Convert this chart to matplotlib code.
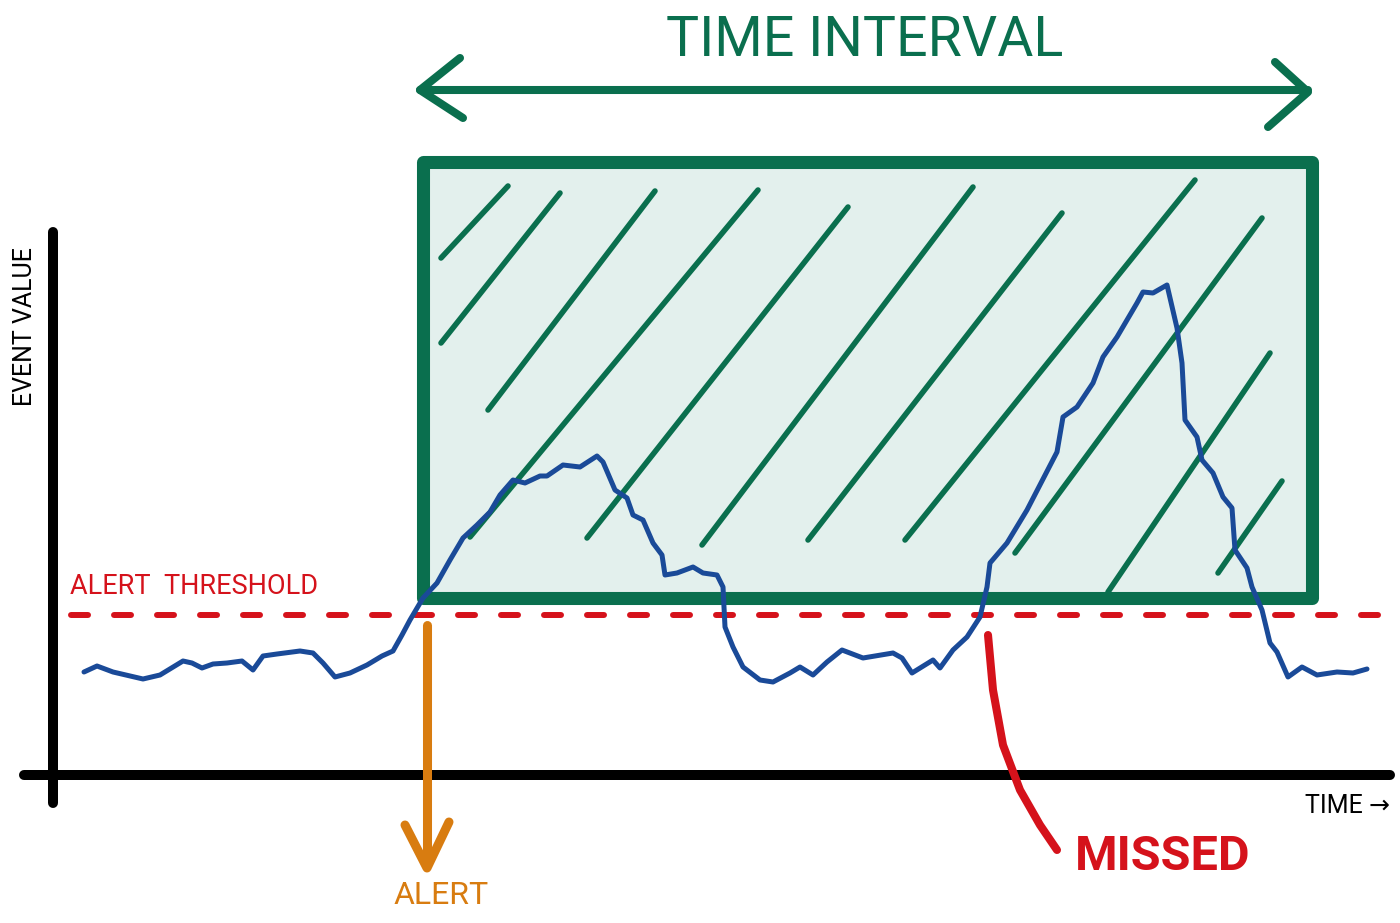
import numpy as np
import matplotlib.pyplot as plt
from matplotlib.patches import Rectangle

# event value over time (blue trace)
time = [3.1, 4.4, 6.0, 9.0, 10.7, 13.0, 13.9, 14.9, 16.0, 17.4, 18.9, 20.0, 21.0, 22.4,
        24.7, 26.0, 27.0, 28.2, 29.7, 31.4, 32.9, 34.0, 34.9, 35.7, 37.0, 38.4, 39.7,
        41.0, 42.4, 43.7, 44.7, 46.0, 47.2, 48.7, 49.4, 51.0, 52.7, 54.4, 55.0, 56.2,
        57.4, 58.0, 59.0, 60.0, 60.9, 61.2, 62.4, 64.0, 65.0, 66.4, 67.0, 67.2, 68.0,
        69.0, 70.7, 72.0, 73.7, 74.7, 76.0, 77.4, 78.9, 81.0, 84.0, 84.9, 85.9, 88.0,
        88.7, 90.0, 91.4, 92.7, 93.4, 93.7, 95.4, 97.4, 100.4, 101.0, 102.4, 104.0,
        105.0, 106.4, 108.4, 109.0, 110.0, 111.4, 112.4, 112.9, 113.2, 114.4, 114.9,
        116.0, 117.0, 117.9, 118.2, 119.4, 119.9, 120.9, 121.7, 122.4, 123.5, 124.9,
        126.4, 128.4, 130.0, 131.4]
value = [10.3, 10.9, 10.3, 9.6, 10.0, 11.4, 11.2, 10.7, 11.1, 11.2, 11.4, 10.5, 11.9, 12.1,
         12.4, 12.2, 11.2, 9.8, 10.2, 11.0, 11.9, 12.4, 14.0, 15.5, 17.7, 19.2, 21.5,
         23.7, 25.0, 26.3, 28.0, 29.5, 29.2, 29.9, 29.9, 31.0, 30.8, 31.9, 31.3, 28.5,
         27.7, 26.0, 25.5, 23.2, 22.0, 20.0, 20.2, 20.8, 20.2, 20.0, 18.8, 14.8, 12.8,
         10.8, 9.5, 9.3, 10.2, 10.8, 10.0, 11.3, 12.5, 11.7, 12.2, 11.7, 10.2, 11.5,
         10.7, 12.5, 13.8, 15.8, 18.8, 21.2, 23.2, 26.5, 32.3, 35.8, 36.8, 39.2,
         41.8, 43.8, 47.2, 48.3, 48.2, 49.0, 44.7, 41.2, 35.5, 33.8, 31.5,
         30.2, 27.8, 26.7, 22.5, 20.7, 18.8, 16.5, 13.2, 12.3, 9.8, 10.8,
         10.0, 10.3, 10.2, 10.6]

threshold = 16.0
interval_start, interval_end = 37.0, 125.9
interval_low, interval_high = 17.7, 61.3

# hand drawn hatch strokes inside the interval box: (t0, v0, t1, v1)
hatch = [(38.8, 51.7, 45.5, 58.9), (38.8, 43.2, 50.7, 58.2), (43.5, 36.5, 60.2, 58.4),
         (41.7, 23.8, 70.5, 58.5), (53.4, 23.7, 79.5, 56.8), (64.9, 23.0, 92.0, 58.8),
         (75.5, 23.5, 100.9, 56.2), (85.2, 23.5, 114.2, 59.5), (96.2, 22.2, 120.9, 55.7),
         (105.5, 18.3, 121.7, 42.2), (116.5, 20.2, 122.9, 29.4)]

alert_time = 37.4
missed_path_t = [93.5, 94.0, 95.0, 96.7, 98.7, 100.4]
missed_path_v = [14.0, 8.5, 3.0, -1.5, -5.0, -7.5]

GREEN = '#0a6f4e'
FILL = '#e3f0ed'
BLUE = '#1a4a98'
RED = '#d5121b'
ORANGE = '#d87c10'
FONT = ['Roboto', 'DejaVu Sans']

fig = plt.figure(figsize=(14, 9.23), dpi=100)
ax = fig.add_axes([0, 0, 1, 1])
ax.set_xlim(-5.3, 134.7)
ax.set_ylim(-14.8, 77.5)
ax.axis('off')

# interval box
ax.add_patch(Rectangle((interval_start, interval_low), interval_end - interval_start,
                       interval_high - interval_low, facecolor=FILL, edgecolor='none', zorder=1))
for t0, v0, t1, v1 in hatch:
    ax.plot([t0, t1], [v0, v1], color=GREEN, lw=4.0, solid_capstyle='round', zorder=2)
ax.add_patch(Rectangle((interval_start, interval_low), interval_end - interval_start,
                       interval_high - interval_low, facecolor='none', edgecolor=GREEN,
                       lw=9.4, joinstyle='round', zorder=3))

# axes
ax.plot([0, 0], [-2.8, 54.3], color='black', lw=7.2, solid_capstyle='round', zorder=4)
ax.plot([-2.9, 133.7], [0, 0], color='black', lw=7.2, solid_capstyle='round', zorder=4)

# threshold
ax.plot([1.8, 134.0], [threshold, threshold], color=RED, lw=4.3, dashes=(2.85, 4.35),
        dash_capstyle='round', zorder=4)
ax.text(1.7, threshold + 2.8, 'ALERT  THRESHOLD', color=RED, fontsize=19.5, family=FONT,
        ha='left', va='center')

# event trace
ax.plot(time, value, color=BLUE, lw=3.6, solid_joinstyle='round', solid_capstyle='round', zorder=5)

# interval arrow
ya = 68.5
ax.plot([interval_start - 0.3, interval_end - 0.4], [ya, ya], color=GREEN, lw=5.8,
        solid_capstyle='round', zorder=4)
ax.plot([40.7, 36.7, 41.0], [71.7, ya, 65.7], color=GREEN, lw=5.8,
        solid_capstyle='round', solid_joinstyle='round')
ax.plot([122.2, 125.5, 121.5], [71.3, ya - 0.2, 64.8], color=GREEN, lw=5.8,
        solid_capstyle='round', solid_joinstyle='round')
ax.text(81.2, 73.5, 'TIME INTERVAL', color=GREEN, fontsize=40, family=FONT,
        ha='center', va='center')

# alert arrow
ax.plot([alert_time, alert_time], [15.0, -9.0], color=ORANGE, lw=6.5, solid_capstyle='round', zorder=6)
ax.plot([35.2, alert_time, 39.6], [-5.0, -9.3, -4.7], color=ORANGE, lw=6.5,
        solid_capstyle='round', solid_joinstyle='round', zorder=6)
ax.text(38.8, -12.0, 'ALERT', color=ORANGE, fontsize=23, family=FONT, ha='center', va='center')

# missed marker
ax.plot(missed_path_t, missed_path_v, color=RED, lw=5.8, solid_capstyle='round', zorder=6)
ax.text(111.0, -8.2, 'MISSED', color=RED, fontsize=35, fontweight='bold', family=FONT,
        ha='center', va='center')

# axis labels
ax.text(-2.8, 44.8, 'EVENT VALUE', color='black', fontsize=18, family=FONT, rotation=90,
        ha='center', va='center')
ax.text(133.7, -3.1, 'TIME \u2192', color='black', fontsize=18, family=FONT,
        ha='right', va='center')

plt.savefig('out.png', dpi=100)
plt.close()
